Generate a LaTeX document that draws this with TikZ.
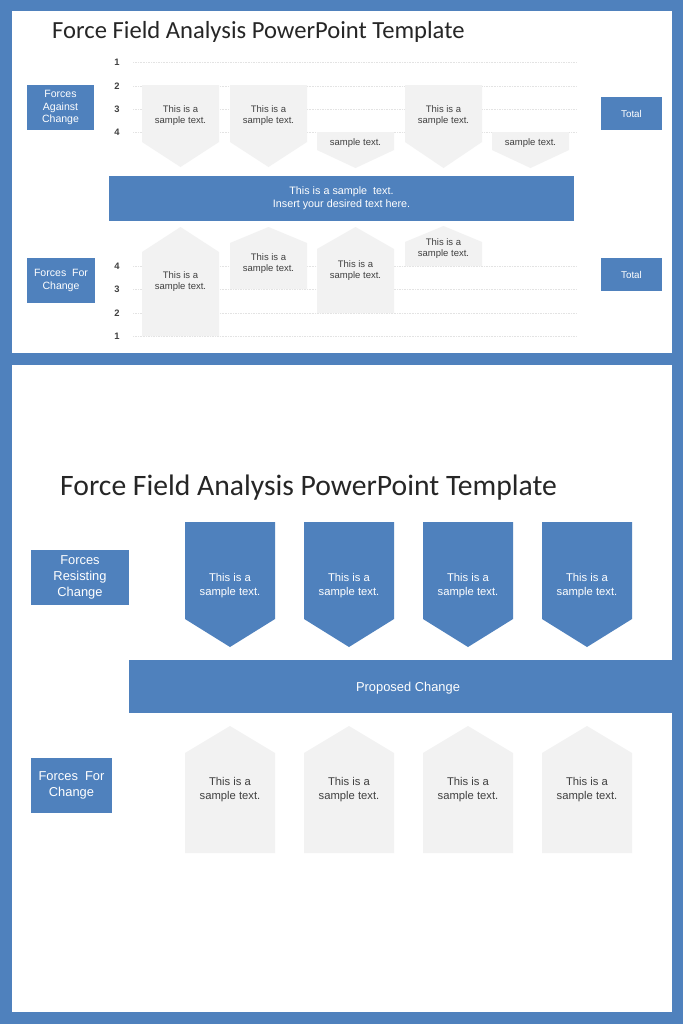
\documentclass[tikz,border=0pt]{standalone}
\usepackage{fontspec}
\setmainfont{Liberation Sans}
\newfontfamily\titlefont{Carlito}

\definecolor{ffblue}{HTML}{4F81BD}
\definecolor{ffgray}{HTML}{F2F2F2}
\definecolor{fftext}{HTML}{404040}
\definecolor{fftitle}{HTML}{262626}

\def\pxl{0.03cm}

\tikzset{
  bluebox/.style={fill=ffblue,text=white,align=center,inner sep=0pt},
  tagtext/.style={text=fftext,align=center,inner sep=0pt,font=\fontsize{8.1}{9.4}\selectfont},
  bigtagtext/.style={align=center,inner sep=0pt,font=\fontsize{9.6}{12}\selectfont},
  gridline/.style={densely dotted,black!11,line width=.4pt},
  numlabel/.style={text=fftext,inner sep=0pt,font=\fontsize{8}{9}\selectfont\bfseries}
}

\begin{document}
\begin{tikzpicture}[x=0.03cm,y=-0.03cm]

% background and the two slides
\fill[ffblue] (0,0) rectangle (683,1024);
\useasboundingbox (0,0) rectangle (683,1024);
\fill[white] (12,11) rectangle (672,353);
\fill[white] (12,365) rectangle (672,1012);

%%% first slide
\node[anchor=base west,inner sep=0pt,text=fftitle,font=\titlefont\fontsize{21}{25}\selectfont] (titlea) at (52,38) {Force Field Analysis PowerPoint Template};

\foreach \n/\y in {1/62,2/86,3/109,4/132}{
  \draw[gridline] (133,\y) -- (576,\y);
  \node[numlabel] (na\n) at (117,\y) {\n};
}
\foreach \n/\y in {4/266,3/289,2/313,1/336}{
  \draw[gridline] (133,\y) -- (576,\y);
  \node[numlabel] (nf\n) at (117,\y) {\n};
}

% forces against
\foreach \xa/\ya/\yb/\yc/\yt/\txt [count=\i] in {
  142/85/142/167/115.5/{This is a\\sample text.},
  230/85/142/167/115.5/{This is a\\sample text.},
  317/132/150/168/143/{sample text.},
  405/85/142/168/115.5/{This is a\\sample text.},
  492/132/150/168/143/{sample text.}}{
  \fill[ffgray] (\xa,\ya) -- (\xa+77,\ya) -- (\xa+77,\yb) -- (\xa+38.5,\yc) -- (\xa,\yb) -- cycle;
  \node[tagtext] (da\i) at (\xa+38.5,\yt) {\txt};
}

% forces for
\foreach \xa/\ya/\yb/\yc/\yt [count=\i] in {
  142/227/252/336/281.5,
  230/227/243/289/264,
  317/227/249/313/271,
  405/226/242/266/248.5}{
  \fill[ffgray] (\xa+38.5,\ya) -- (\xa+77,\yb) -- (\xa+77,\yc) -- (\xa,\yc) -- (\xa,\yb) -- cycle;
  \node[tagtext] (fa\i) at (\xa+38.5,\yt) {This is a\\sample text.};
}

\node[bluebox,minimum width=67*\pxl,minimum height=45*\pxl,font=\fontsize{9}{11}\selectfont] (againsta) at (60.5,107.5) {Forces\\Against\\Change};
\node[bluebox,minimum width=68*\pxl,minimum height=45*\pxl,font=\fontsize{9}{11}\selectfont] (fora) at (61,280.5) {Forces~~For\\Change};
\node[bluebox,minimum width=61*\pxl,minimum height=33*\pxl,font=\fontsize{8.4}{10}\selectfont] (totala) at (631.5,113.5) {Total};
\node[bluebox,minimum width=61*\pxl,minimum height=33*\pxl,font=\fontsize{8.4}{10}\selectfont] (totalb) at (631.5,274.5) {Total};
\node[bluebox,minimum width=465*\pxl,minimum height=45*\pxl,font=\fontsize{9.2}{11}\selectfont] (changea) at (341.5,198.5) {This is a sample~~text.\\Insert your desired text here.};

%%% second slide
\node[anchor=base west,inner sep=0pt,text=fftitle,font=\titlefont\fontsize{25.3}{30}\selectfont] (titleb) at (60,495) {Force Field Analysis PowerPoint Template};

\node[bluebox,minimum width=98*\pxl,minimum height=55*\pxl,font=\fontsize{11}{13.6}\selectfont] (resist) at (80,577.5) {Forces\\Resisting\\Change};
\node[bluebox,minimum width=81*\pxl,minimum height=55*\pxl,font=\fontsize{11}{13.6}\selectfont] (forb) at (71.5,785.5) {Forces~~For\\Change};
\node[bluebox,minimum width=543*\pxl,minimum height=53*\pxl,font=\fontsize{11}{13}\selectfont] (proposed) at (400.5,686.5) {};
\node[text=white,inner sep=0pt,font=\fontsize{11}{13}\selectfont] (proposedtext) at (408,688) {Proposed Change};

\foreach \xa [count=\i] in {185,304,423,542}{
  \fill[ffblue] (\xa,522) -- (\xa+90,522) -- (\xa+90,619) -- (\xa+45,647) -- (\xa,619) -- cycle;
  \node[bigtagtext,text=white] (rb\i) at (\xa+45,586) {This is a\\sample text.};
  \fill[ffgray] (\xa+45,726) -- (\xa+90,753) -- (\xa+90,853) -- (\xa,853) -- (\xa,753) -- cycle;
  \node[bigtagtext,text=fftext] (fb\i) at (\xa+45,790) {This is a\\sample text.};
}

\end{tikzpicture}
\end{document}
